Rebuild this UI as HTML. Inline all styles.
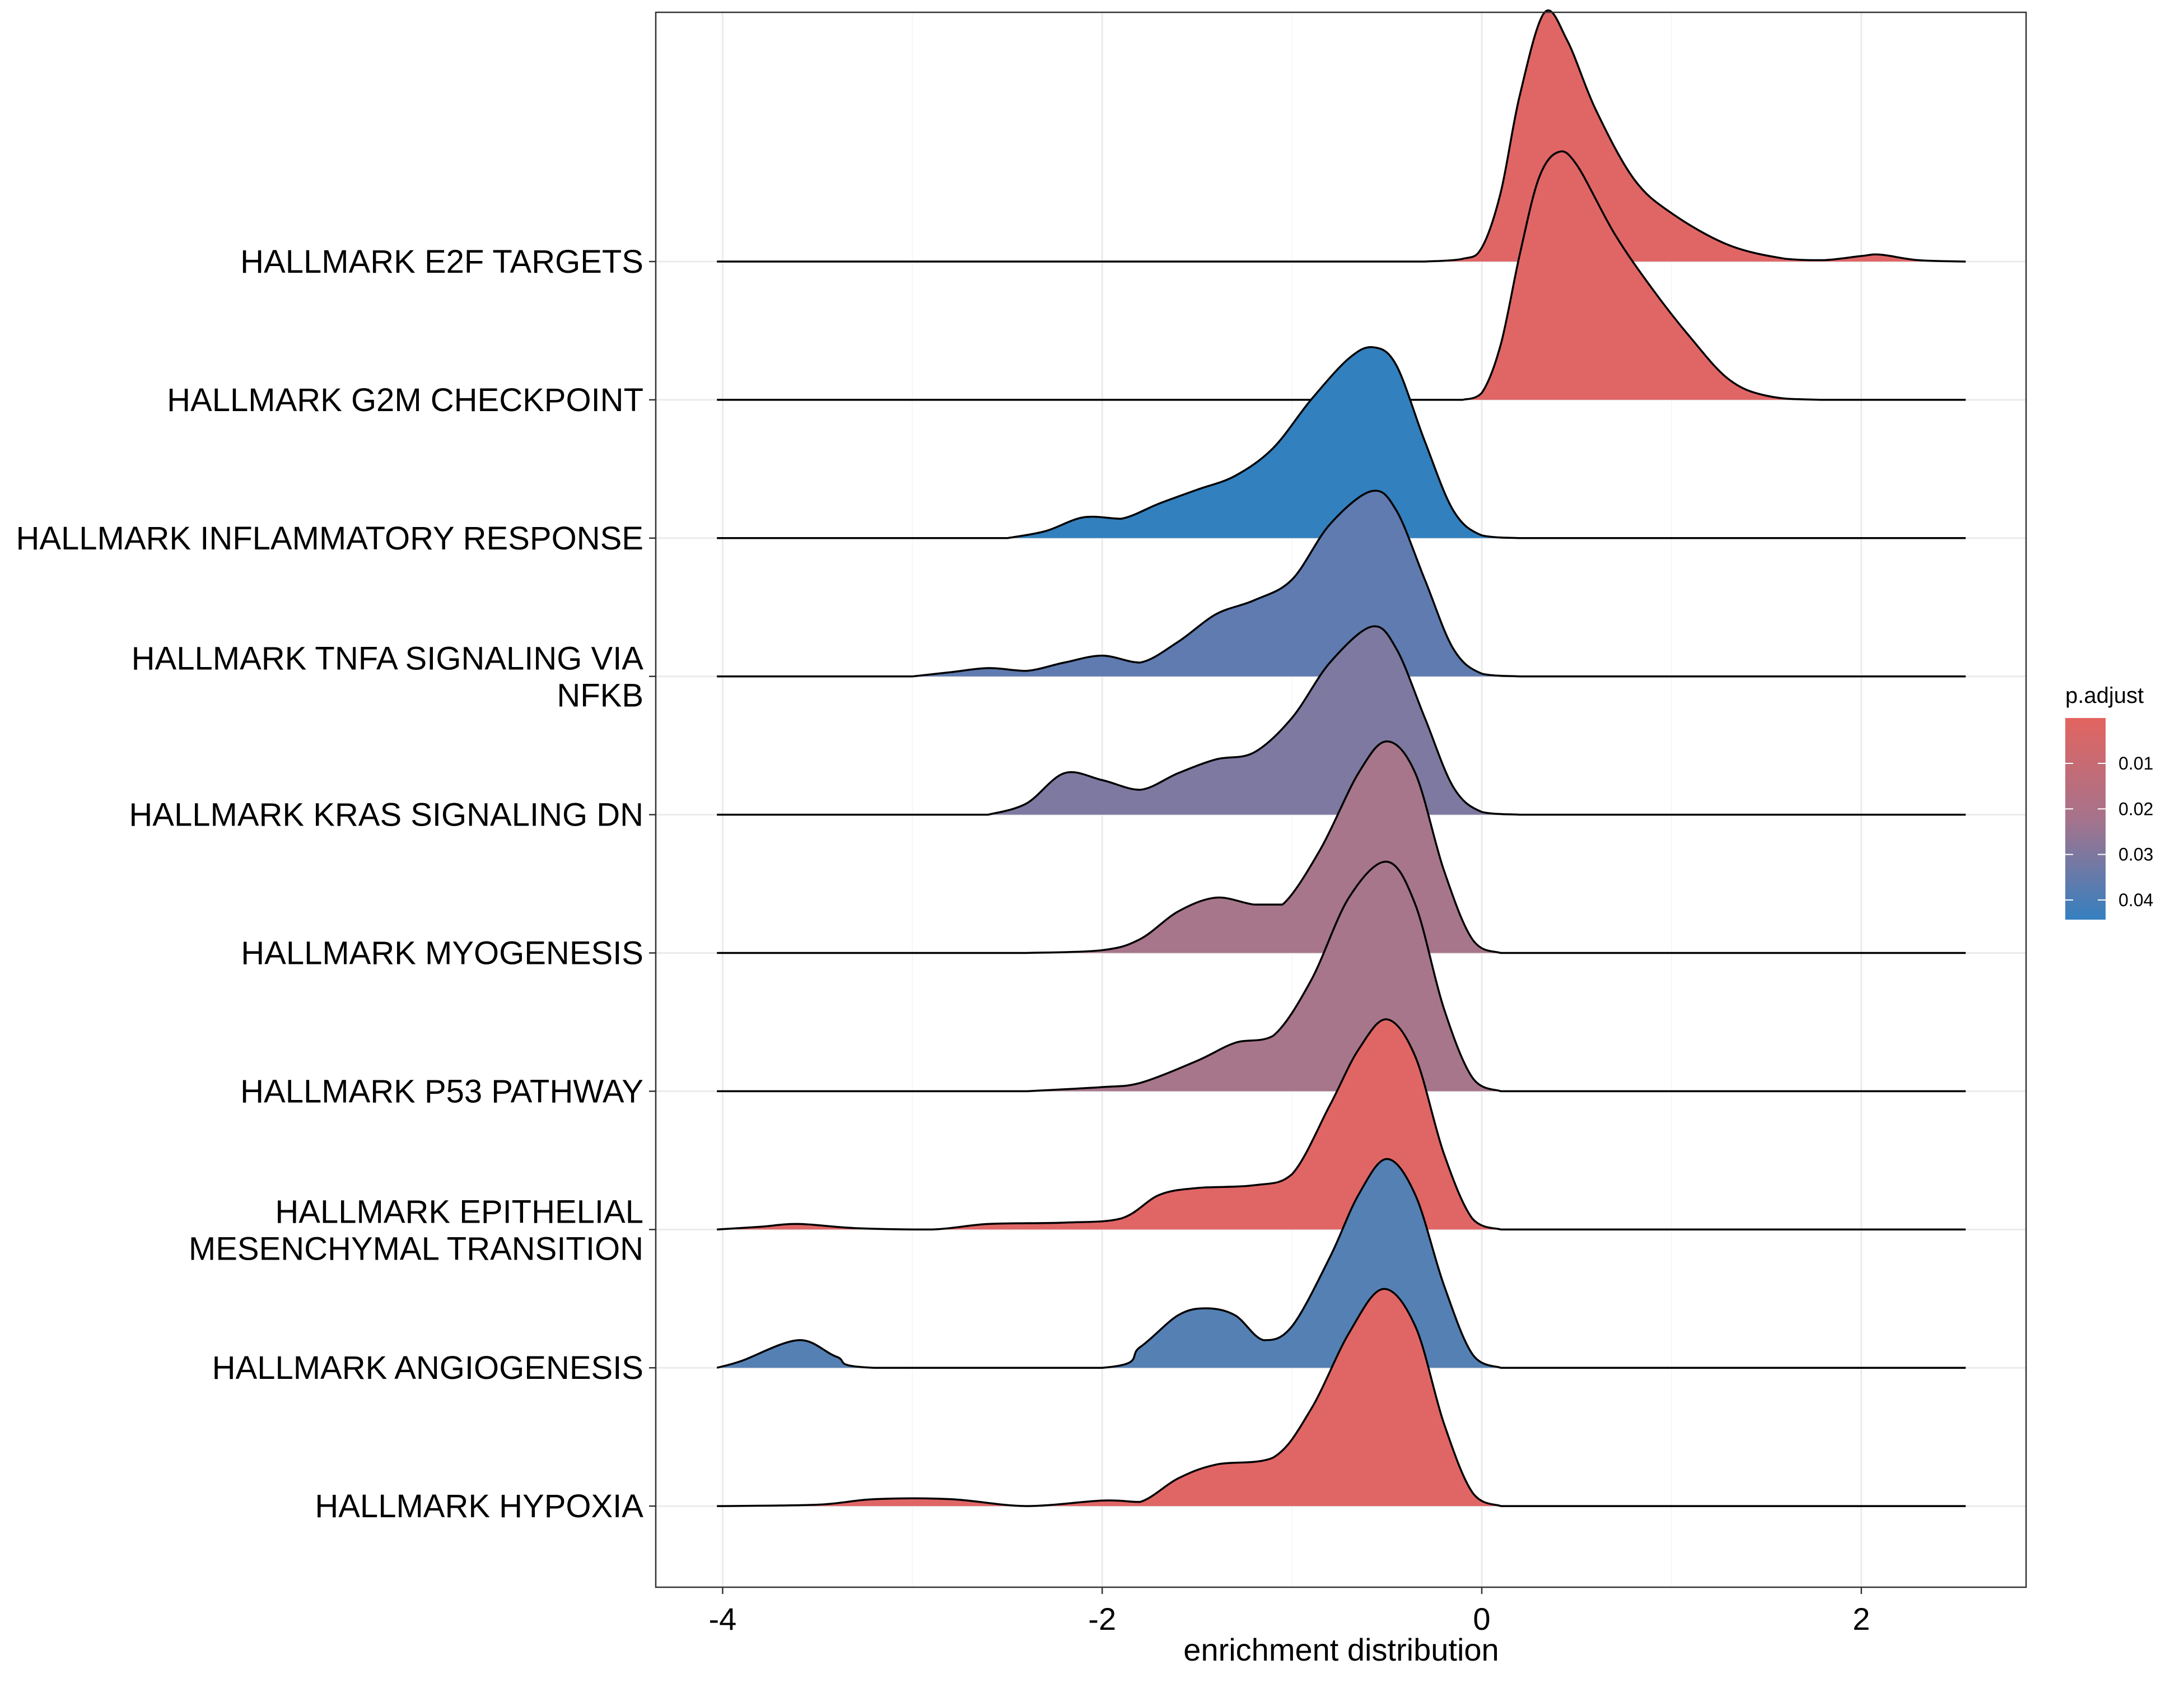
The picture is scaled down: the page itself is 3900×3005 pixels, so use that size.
<!DOCTYPE html>
<html><head><meta charset="utf-8"><style>
html,body{margin:0;padding:0;background:#fff}
svg text{font-family:"Liberation Sans",Arial,sans-serif}
</style></head><body>
<svg id="chart" width="3900" height="3000" viewBox="0 0 3900 3000" xmlns="http://www.w3.org/2000/svg">
<defs>
<linearGradient id="leg" x1="0" y1="0" x2="0" y2="1">
<stop offset="0" stop-color="#E2645F"/><stop offset="0.5" stop-color="#A6738C"/><stop offset="1" stop-color="#3580C0"/>
</linearGradient>
</defs>
<rect x="1171" y="22" width="2447" height="2812" fill="#fff"/>
<g id="grid"></g>
<g id="ridges"></g>
<rect x="1171" y="22" width="2447" height="2812" fill="none" stroke="#333" stroke-width="2.5"/>
<g id="axes"></g>
<text x="2395" y="2965" font-size="56" text-anchor="middle">enrichment distribution</text>
<g>
<text x="3688" y="1255" font-size="40">p.adjust</text>
<rect x="3688" y="1282" width="72" height="360" fill="url(#leg)"/>
<g id="legticks"></g>
</g>
</svg>
<script>
const categories = ["HALLMARK E2F TARGETS","HALLMARK G2M CHECKPOINT","HALLMARK INFLAMMATORY RESPONSE","HALLMARK TNFA SIGNALING VIA|NFKB","HALLMARK KRAS SIGNALING DN","HALLMARK MYOGENESIS","HALLMARK P53 PATHWAY","HALLMARK EPITHELIAL|MESENCHYMAL TRANSITION","HALLMARK ANGIOGENESIS","HALLMARK HYPOXIA"];
const fills = ["#E06666","#E06666","#3280BE","#5F7BB0","#7E79A0","#A7768A","#A7768A","#E06666","#5580B3","#E06666"];
const xTicks = [-4,-2,0,2];
const xTickLabels = ["-4","-2","0","2"];
const legendTicks = [0.01,0.02,0.03,0.04];
const legendLabels = ["0.01","0.02","0.03","0.04"];
const densX = [
 [-0.3,-0.1,0,0.1,0.2,0.33,0.45,0.6,0.8,1.0,1.3,1.6,1.8,2.0,2.1,2.3,2.55],
 [-0.1,0,0.1,0.2,0.3,0.4,0.5,0.7,0.9,1.1,1.3,1.5,1.8,2.55],
 [-2.5,-2.3,-2.1,-1.9,-1.7,-1.5,-1.3,-1.1,-0.9,-0.7,-0.57,-0.45,-0.3,-0.15,0,0.2],
 [-3.0,-2.8,-2.6,-2.4,-2.2,-2.0,-1.8,-1.6,-1.4,-1.2,-1.0,-0.8,-0.58,-0.45,-0.3,-0.15,0,0.2],
 [-2.6,-2.4,-2.2,-2.0,-1.8,-1.6,-1.4,-1.2,-1.0,-0.8,-0.58,-0.45,-0.3,-0.15,0,0.2],
 [-2.4,-2.0,-1.8,-1.6,-1.4,-1.2,-1.05,-0.85,-0.65,-0.5,-0.35,-0.2,-0.05,0.1,0.2],
 [-2.4,-2.0,-1.8,-1.5,-1.3,-1.1,-0.9,-0.7,-0.5,-0.35,-0.2,-0.05,0.1],
 [-4.03,-3.8,-3.6,-3.3,-2.9,-2.6,-2.2,-1.9,-1.7,-1.5,-1.2,-1.0,-0.8,-0.65,-0.5,-0.35,-0.2,-0.05,0.1],
 [-4.03,-3.9,-3.6,-3.4,-3.2,-2.0,-1.8,-1.6,-1.45,-1.3,-1.15,-1.0,-0.8,-0.65,-0.5,-0.35,-0.2,-0.05,0.1],
 [-4.03,-3.5,-3.2,-2.8,-2.4,-2.0,-1.8,-1.6,-1.4,-1.1,-0.9,-0.7,-0.52,-0.35,-0.2,-0.05,0.1]
];
const densY = [
 [0,0.02,0.1,0.5,1.2,1.8,1.6,1.1,0.6,0.35,0.12,0.02,0.01,0.04,0.05,0.01,0],
 [0,0.05,0.4,1.05,1.6,1.79,1.7,1.2,0.8,0.45,0.15,0.03,0,0],
 [0,0.05,0.15,0.14,0.25,0.35,0.45,0.65,1.0,1.3,1.38,1.25,0.7,0.2,0.02,0],
 [0,0.03,0.06,0.04,0.1,0.15,0.1,0.25,0.45,0.55,0.7,1.1,1.34,1.2,0.7,0.2,0.02,0],
 [0,0.08,0.3,0.25,0.18,0.3,0.4,0.45,0.7,1.1,1.36,1.2,0.7,0.2,0.02,0],
 [0,0.02,0.1,0.3,0.4,0.35,0.35,0.75,1.3,1.53,1.3,0.6,0.1,0,0],
 [0,0.03,0.06,0.22,0.35,0.4,0.8,1.4,1.66,1.35,0.6,0.1,0],
 [0,0.02,0.04,0.01,0,0.04,0.05,0.08,0.25,0.3,0.32,0.4,0.9,1.3,1.52,1.25,0.55,0.08,0],
 [0,0.05,0.2,0.08,0,0,0.15,0.38,0.43,0.38,0.2,0.3,0.8,1.25,1.51,1.25,0.6,0.1,0],
 [0,0.01,0.05,0.05,0,0.04,0.03,0.2,0.3,0.35,0.7,1.25,1.57,1.3,0.6,0.1,0]
];
const xMin=-4.03, xMax=2.55;
const X = v => 2646 + v*338.9;
const rowBase = i => 467 + i*246.9;
const H = 246.9;
const NS="http://www.w3.org/2000/svg";
function mk(tag, attrs, parent){const e=document.createElementNS(NS,tag);for(const k in attrs)e.setAttribute(k,attrs[k]);parent.appendChild(e);return e;}
const grid=document.getElementById('grid'), ridges=document.getElementById('ridges'), axes=document.getElementById('axes');
for(let v=-4; v<=2; v++){
  const g=mk('line',{x1:X(v),x2:X(v),y1:22,y2:2834,stroke:v%2===0?'#EBEBEB':'#F4F4F4','stroke-width':v%2===0?3:1.5},grid);
  
  
}
categories.forEach((c,i)=>{
  const g=mk('line',{x1:1171,x2:3618,y1:rowBase(i),y2:rowBase(i),stroke:'#EBEBEB','stroke-width':3},grid);
  
  
});
function smoothPath(pts){
  let d=`M${pts[0][0]},${pts[0][1]}`;
  for(let i=0;i<pts.length-1;i++){
    const p0=pts[Math.max(0,i-1)],p1=pts[i],p2=pts[i+1],p3=pts[Math.min(pts.length-1,i+2)];
    const c1x=p1[0]+(p2[0]-p0[0])/6,c1y=p1[1]+(p2[1]-p0[1])/6;
    const c2x=p2[0]-(p3[0]-p1[0])/6,c2y=p2[1]-(p3[1]-p1[1])/6;
    const lo=Math.max(p1[1],p2[1]);
    d+=` C${c1x},${Math.min(c1y,lo)} ${c2x},${Math.min(c2y,lo)} ${p2[0]},${p2[1]}`;
  }
  return d;
}
categories.forEach((c,i)=>{
  const b=rowBase(i);
  const pts=densX[i].map((x,j)=>[X(x),b-densY[i][j]*H]);
  const curve=smoothPath(pts);
  const fill=mk('path',{d:curve+` L${pts[pts.length-1][0]},${b} L${pts[0][0]},${b} Z`,fill:fills[i],stroke:'none'},ridges);
  
  
  const line=mk('path',{d:`M${X(xMin)},${b} L${pts[0][0]},${b} `+curve.slice(1).replace(/^[^C]*/,'L'+pts[0][0]+','+pts[0][1]+' ')+` L${X(xMax)},${b}`,fill:'none',stroke:'#000','stroke-width':3.5,'stroke-linejoin':'round'},ridges);
  
  
  const t=mk('line',{x1:1159,x2:1171,y1:b,y2:b,stroke:'#333','stroke-width':2.5},axes);
  
  
  const parts=c.split('|');
  const lab=mk('text',{x:1149,y:b+20-(parts.length-1)*32,'font-size':58,'text-anchor':'end',fill:'#000'},axes);
  
  
  parts.forEach((p,k)=>{const ts=mk('tspan',{x:1149,dy:k===0?0:66},lab);ts.textContent=p;});
});
xTicks.forEach((v,k)=>{
  const t=mk('line',{x1:X(v),x2:X(v),y1:2834,y2:2846,stroke:'#333','stroke-width':2.5},axes);
  
  
  const l=mk('text',{x:X(v),y:2910,'font-size':56,'text-anchor':'middle',fill:'#000'},axes);
  
  
  l.textContent=xTickLabels[k];
});
const lt=document.getElementById('legticks');
const LY = v => 1363 + (v-0.01)/0.01*81.3;
legendTicks.forEach((v,k)=>{
  const y=LY(v);
  const a=mk('line',{x1:3688,x2:3702,y1:y,y2:y,stroke:'#fff','stroke-width':2},lt);
  
  
  const b2=mk('line',{x1:3746,x2:3760,y1:y,y2:y,stroke:'#fff','stroke-width':2},lt);
  
  
  const l=mk('text',{x:3783,y:y+11,'font-size':32,fill:'#000'},lt);
  
  
  l.textContent=legendLabels[k];
});
</script>
</body></html>
